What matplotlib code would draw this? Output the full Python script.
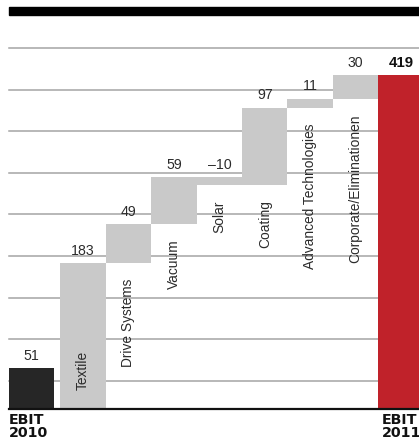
import numpy as np
import matplotlib
matplotlib.use("Agg")
import matplotlib.pyplot as plt
from matplotlib.patches import Rectangle

# EBIT bridge 2010 -> 2011 (million EUR)
start_label = "EBIT\n2010"
start_value = 51
categories = ["Textile", "Drive Systems", "Vacuum", "Solar", "Coating",
              "Advanced Technologies", "Corporate/Eliminationen"]
deltas = [183, 49, 59, -10, 97, 11, 30]
end_label = "EBIT\n2011"
end_value = 419
delta_labels = ["183", "49", "59", "\u201310", "97", "11", "30"]

plt.rcParams["font.family"] = ["Liberation Sans", "DejaVu Sans"]

W, H = 419, 443
fig = plt.figure(figsize=(W / 100, H / 100), dpi=100)
ax = fig.add_axes([9 / W, 34 / H, 410 / W, 361 / H])

GRAY = "#c9c9c9"
DARK = "#262626"
RED = "#c0222a"
TXT = "#2b2b2b"

n = len(categories)
gap = 0.13
positions = np.concatenate([[0.0], np.arange(1, n + 2) + gap])

ax.set_xlim(-0.5, -0.5 + 410 / 45.43)
ax.set_ylim(0, 453)

# grid lines behind the bars
grid_vals = 453 - 52.2 * np.arange(9)
ax.set_yticks(grid_vals)
ax.yaxis.grid(True, color="#a4a4a4", lw=1.1)
for gl in ax.get_ygridlines():
    gl.set_clip_on(False)
ax.set_axisbelow(True)
ax.tick_params(left=False, bottom=False, labelleft=False, labelbottom=False)
ax.set_xticks([])
for s in ["left", "right", "top"]:
    ax.spines[s].set_visible(False)
ax.spines["bottom"].set_color("#111111")
ax.spines["bottom"].set_linewidth(1.6)

fs_val = 10.2
fs_cat = 9.9

# starting total
ax.bar(positions[0], start_value, width=1.0, color=DARK, zorder=2)
ax.annotate(str(start_value), (positions[0], start_value), xytext=(0, 4),
            textcoords="offset points", ha="center", va="bottom",
            fontsize=fs_val, color=TXT)

# deltas
level = 0
for i, (cat, d, lab) in enumerate(zip(categories, deltas, delta_labels)):
    x = positions[i + 1]
    lo, hi = min(level, level + d), max(level, level + d)
    ax.bar(x, hi - lo, bottom=lo, width=1.0, color=GRAY, zorder=2)
    ax.annotate(lab, (x, hi), xytext=(0, 4), textcoords="offset points",
                ha="center", va="bottom", fontsize=fs_val, color=TXT)
    if lo == 0:
        ax.annotate(cat, (x, 0), xytext=(0, 14), textcoords="offset points",
                    ha="center", va="bottom", rotation=90,
                    fontsize=fs_cat, color=TXT)
    else:
        ax.annotate(cat, (x, lo), xytext=(0, -11), textcoords="offset points",
                    ha="center", va="top", rotation=90,
                    fontsize=fs_cat, color=TXT)
    level += d

# final total
xe = positions[-1]
ax.bar(xe, end_value, width=1.0, color=RED, zorder=2, clip_on=True)
ax.annotate(str(end_value), (xe, end_value), xytext=(0, 4),
            textcoords="offset points", ha="center", va="bottom",
            fontsize=fs_val + 0.6, color="#111111", fontweight="bold")

# total labels under the baseline
for x, lab in [(positions[0], start_label), (positions[-1], end_label)]:
    ax.annotate(lab, (x - 0.5, 0), xytext=(2.5 if x > 0 else 0, -3),
                textcoords="offset points", ha="left", va="top",
                fontsize=10.3, fontweight="bold", color="#111111",
                family="DejaVu Sans", linespacing=0.88,
                annotation_clip=False)

# heavy rule at the top
fig.patches.append(Rectangle((9 / W, (H - 15) / H), 410 / W, 8 / H,
                             transform=fig.transFigure, color="black"))

fig.savefig("out.png", dpi=100)
